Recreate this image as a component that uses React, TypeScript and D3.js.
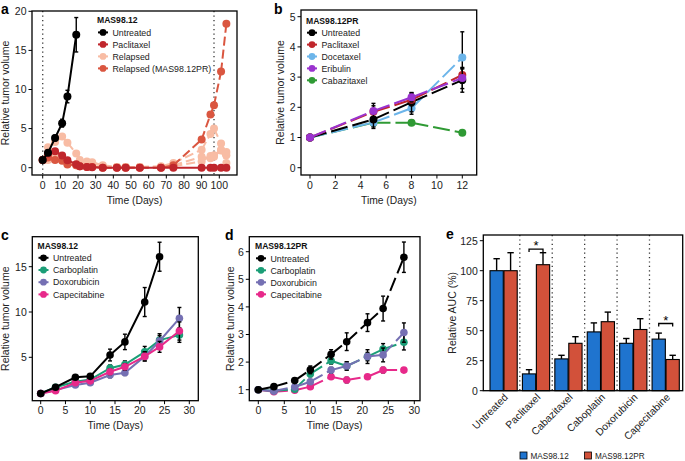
import React from 'react';
import * as d3 from 'd3';

const FONT = "'Liberation Sans', Arial, Helvetica, sans-serif";

// ---------- Panel a data ----------
const aDays = [0, 3, 7, 11, 14, 19, 21, 25, 28, 34, 42, 47, 55, 67, 74, 90, 95, 97, 101, 104];
const aUntreatedDays = [0, 3, 7, 11, 14, 19];
const aUntreated = [1, 1.9, 3.8, 5.7, 9.1, 17.0];
const aUntreatedErr = [0, 0.2, 0.35, 0.5, 0.8, 2.2];
const aPaclitaxel = [1, 1.8, 2.1, 1.55, 0.95, 0.45, 0.2, 0.1, 0.05, 0, 0, 0, 0, 0, 0, 0, 0, 0, 0, 0];
const aRelapsed1 = [1, 2.6, 3.3, 4.0, 3.2, 1.8, 1.0, 0.8, 0.7, 0.3, 0.1, 0.1, 0.1, 0.1, 0.2, 0.8, 1.5, 1.6, 2.3, 2.0];
const aRelapsed2 = [1, 1.0, 1.5, 1.2, 0.8, 0.4, 0.3, 0.6, 0.6, 0.2, 0.1, 0.1, 0.1, 0.2, 0.6, 2.3, 4.3, 5.0, 3.1, 1.6];
const aRelapsed3 = [1, 1.7, 1.2, 1.0, 0.5, 0.3, 0.2, 0.2, 0.2, 0.1, 0.1, 0.1, 0.1, 0.1, 0.3, 1.4, 1.2, 1.4, 2.2, 0.6];
const aRelapsedPR = [1, 1.3, 1.0, 0.9, 0.4, 0.3, 0.2, 0.1, 0.1, 0, 0, 0, 0, 0, 0.3, 3.6, 6.8, 8.0, 12.3, 18.4];
const aXTicks = [0, 10, 20, 30, 40, 50, 60, 70, 80, 90, 100];
const aYTicks = [0, 5, 10, 15, 20];
const aLegend = ['Untreated', 'Paclitaxel', 'Relapsed', 'Relapsed (MAS98.12PR)'];

// ---------- Panel b data ----------
const bDays = [0, 5, 8, 12];
const bUntreated = [1, 1.6, 2.17, 2.9];
const bUntreatedErr = [0, 0.3, 0.32, 0.4];
const bPaclitaxel = [1, 1.85, 2.25, 3.07];
const bPaclitaxelErr = [0, 0.2, 0.2, 0.2];
const bDocetaxel = [1, 1.5, 1.97, 3.65];
const bDocetaxelErr = [0, 0.15, 0.2, 0.85];
const bEribulin = [1, 1.88, 2.33, 2.97];
const bEribulinErr = [0, 0.25, 0.15, 0.35];
const bCabazitaxel = [1, 1.49, 1.49, 1.16];
const bCabazitaxelErr = [0, 0.1, 0.08, 0.05];
const bXTicks = [0, 2, 4, 6, 8, 10, 12];
const bYTicks = [0, 1, 2, 3, 4, 5];
const bLegend = ['Untreated', 'Paclitaxel', 'Docetaxel', 'Eribulin', 'Cabazitaxel'];

// ---------- Panel c data ----------
const cDays = [0, 3, 7, 10, 14, 17, 21, 24, 28];
const cUntreatedDays = [0, 3, 7, 10, 14, 17, 21, 24];
const cUntreated = [1, 1.7, 2.8, 2.9, 5.25, 6.7, 11.1, 16.1];
const cUntreatedErr = [0, 0.1, 0.15, 0.2, 0.65, 0.85, 1.6, 1.6];
const cCarboplatin = [1, 1.7, 2.3, 2.55, 3.8, 4.2, 5.6, 6.9, 7.45];
const cCarboplatinErr = [0, 0.1, 0.15, 0.2, 0.35, 0.4, 0.6, 0.7, 0.8];
const cDoxorubicin = [1, 1.4, 1.95, 2.2, 3.05, 3.3, 5.1, 6.8, 9.3];
const cDoxorubicinErr = [0, 0.1, 0.15, 0.2, 0.3, 0.3, 0.5, 0.6, 1.2];
const cCapecitabine = [1, 1.3, 2.2, 2.4, 3.4, 3.95, 5.1, 6.15, 7.9];
const cCapecitabineErr = [0, 0.1, 0.15, 0.2, 0.3, 0.35, 0.5, 0.6, 1.0];
const cXTicks = [0, 5, 10, 15, 20, 25, 30];
const cYTicks = [5, 10, 15];
const cLegend = ['Untreated', 'Carboplatin', 'Doxorubicin', 'Capecitabine'];

// ---------- Panel d data ----------
const dDays = [0, 3, 7, 10, 14, 17, 21, 24, 28];
const dUntreated = [1, 1.11, 1.33, 1.72, 2.28, 2.74, 3.43, 3.94, 5.8];
const dUntreatedErr = [0, 0.05, 0.08, 0.14, 0.17, 0.32, 0.32, 0.45, 0.55];
const dCarboplatin = [1, 0.96, 1.02, 1.57, 2.05, 1.86, 2.2, 2.47, 2.72];
const dCarboplatinErr = [0, 0.03, 0.05, 0.1, 0.12, 0.15, 0.15, 0.2, 0.28];
const dDoxorubicin = [1, 0.95, 1.1, 1.29, 1.71, 1.86, 2.2, 2.26, 3.07];
const dDoxorubicinErr = [0, 0.03, 0.05, 0.08, 0.1, 0.15, 0.25, 0.25, 0.35];
const dCapecitabine = [1, 0.93, 0.98, 1.11, 1.47, 1.35, 1.47, 1.71, 1.71];
const dCapecitabineErr = [0, 0.03, 0.04, 0.06, 0.08, 0.1, 0.06, 0.1, 0.08];
const dXTicks = [0, 5, 10, 15, 20, 25, 30];
const dYTicks = [1, 2, 3, 4, 5, 6];

// ---------- Panel e data ----------
const eCategories = ['Untreated', 'Paclitaxel', 'Cabazitaxel', 'Caboplatin', 'Doxorubicin', 'Capecitabine'];
const eGroups = ['MAS98.12', 'MAS98.12PR'];
const eMAS9812 = [100, 14, 26.5, 49, 39.5, 43];
const eMAS9812Err = [10, 3.5, 3, 7.5, 4, 5];
const eMAS9812PR = [100, 105, 39.5, 57.5, 51, 26];
const eMAS9812PRErr = [15, 10, 5.5, 8, 9, 3.5];
const eYTicks = [0, 25, 50, 75, 100, 125];
const eSignificant = ['Paclitaxel', 'Capecitabine'];
const eSigLevel = [118, 56];

// ---------- colors ----------
const C_BLACK = '#000000';
const C_PAC = '#c0262c';
const C_REL = '#f8bca4';
const C_RELPR = '#da5640';
const C_DOC = '#6cb5ea';
const C_ERI = '#9a33cf';
const C_CAB = '#2f9a34';
const C_CARBO = '#1b9e77';
const C_DOXO = '#7570b3';
const C_CAPE = '#e7298a';
const C_BLUE = '#1f74cf';
const C_RED = '#d2513a';

type Scale = (v: number) => number;
type Box = { l: number; t: number; r: number; b: number };

function Trace(props: {
  xs: number[]; ys: number[]; err?: number[]; color: string; dash?: string;
  r: number; x: Scale; y: Scale; lw?: number;
}) {
  const { xs, ys, err, color, dash, r, x, y } = props;
  const lw = props.lw ?? 2;
  const pts: [number, number][] = xs.map((d, i) => [x(d), y(ys[i])]);
  const lines = dash
    ? pts.slice(1).map((p, i) => (
        <line key={i} x1={pts[i][0]} y1={pts[i][1]} x2={p[0]} y2={p[1]}
          stroke={color} strokeWidth={lw} strokeDasharray={dash} />
      ))
    : <path d={d3.line()(pts) || ''} fill="none" stroke={color} strokeWidth={lw} />;
  return (
    <g>
      {lines}
      {err && xs.map((d, i) => err[i] > 0 ? (
        <g key={'e' + i} stroke="#000" strokeWidth={1.4}>
          <line x1={x(d)} x2={x(d)} y1={y(ys[i] - err[i])} y2={y(ys[i] + err[i])} />
          <line x1={x(d) - 2} x2={x(d) + 2} y1={y(ys[i] - err[i])} y2={y(ys[i] - err[i])} />
          <line x1={x(d) - 2} x2={x(d) + 2} y1={y(ys[i] + err[i])} y2={y(ys[i] + err[i])} />
        </g>
      ) : null)}
      {pts.map((p, i) => <circle key={'p' + i} cx={p[0]} cy={p[1]} r={r} fill={color} />)}
    </g>
  );
}

function Frame(props: {
  box: Box; x: Scale; y: Scale; xTicks: number[]; yTicks: number[];
  yTitleX: number; children?: React.ReactNode;
}) {
  const { box, x, y, xTicks, yTicks, yTitleX } = props;
  const midY = (box.t + box.b) / 2;
  const midX = (box.l + box.r) / 2;
  return (
    <g fontFamily={FONT}>
      {props.children}
      <rect x={box.l} y={box.t} width={box.r - box.l} height={box.b - box.t}
        fill="none" stroke="#000" strokeWidth={1.3} />
      {xTicks.map((t) => (
        <g key={'x' + t}>
          <line x1={x(t)} x2={x(t)} y1={box.b} y2={box.b + 3.5} stroke="#000" strokeWidth={1} />
          <text x={x(t)} y={box.b + 13.5} fontSize={10.5} textAnchor="middle" fill="#222">{t}</text>
        </g>
      ))}
      {yTicks.map((t) => (
        <g key={'y' + t}>
          <line x1={box.l} x2={box.l - 3.5} y1={y(t)} y2={y(t)} stroke="#000" strokeWidth={1} />
          <text x={box.l - 5.5} y={y(t) + 3.8} fontSize={10.5} textAnchor="end" fill="#222">{t}</text>
        </g>
      ))}
      <text x={midX} y={box.b + 28.5} fontSize={10.3} textAnchor="middle" fill="#222">Time (Days)</text>
      <text transform={`translate(${yTitleX},${midY}) rotate(-90)`} fontSize={10.5}
        textAnchor="middle" fill="#222">Relative tumor volume</text>
    </g>
  );
}

function Legend(props: { x: number; y: number; title: string; names: string[]; colors: string[]; step: number }) {
  const { x, y, title, names, colors, step } = props;
  return (
    <g fontFamily={FONT}>
      <text x={x - 6} y={y - step + 3} fontSize={8.6} fontWeight="bold" fill="#111">{title}</text>
      {names.map((n, i) => (
        <g key={n}>
          <line x1={x - 5} x2={x + 5} y1={y + i * step} y2={y + i * step} stroke={colors[i]} strokeWidth={2} />
          <circle cx={x} cy={y + i * step} r={3.4} fill={colors[i]} />
          <text x={x + 9.5} y={y + i * step + 3.2} fontSize={8.8} fill="#222">{n}</text>
        </g>
      ))}
    </g>
  );
}

function PanelA() {
  const box = { l: 32, t: 11, r: 237, b: 175 };
  const x = d3.scaleLinear().domain([0, 100]).range([42.7, 219.3]);
  const y = d3.scaleLinear().domain([0, 20]).range([167.7, 11.3]);
  return (
    <Frame box={box} x={x} y={y} xTicks={aXTicks} yTicks={aYTicks} yTitleX={9}>
      {[0, 97].map((d) => (
        <line key={d} x1={x(d)} x2={x(d)} y1={box.t} y2={box.b} stroke="#444" strokeWidth={1.4} strokeDasharray="1.3,3.2" />
      ))}
      <Trace xs={aDays} ys={aRelapsed3} color={C_REL} dash="9,4" r={4} x={x} y={y} />
      <Trace xs={aDays} ys={aRelapsed2} color={C_REL} dash="9,4" r={4} x={x} y={y} />
      <Trace xs={aDays} ys={aRelapsed1} color={C_REL} dash="9,4" r={4} x={x} y={y} />
      <Trace xs={aDays} ys={aRelapsedPR} color={C_RELPR} dash="9,4" r={4} x={x} y={y} />
      <Trace xs={aDays} ys={aPaclitaxel} color={C_PAC} r={4} x={x} y={y} />
      <Trace xs={aUntreatedDays} ys={aUntreated} err={aUntreatedErr} color={C_BLACK} r={4} x={x} y={y} />
      <Legend x={103} y={32.4} step={12} title="MAS98.12" names={aLegend} colors={[C_BLACK, C_PAC, C_REL, C_RELPR]} />
    </Frame>
  );
}

function PanelB() {
  const box = { l: 301, t: 10, r: 476.7, b: 175 };
  const x = d3.scaleLinear().domain([0, 12]).range([310, 462.3]);
  const y = d3.scaleLinear().domain([0, 5]).range([167.7, 16.7]);
  const dash = '17,5';
  return (
    <Frame box={box} x={x} y={y} xTicks={bXTicks} yTicks={bYTicks} yTitleX={283.5}>
      <Trace xs={bDays} ys={bCabazitaxel} err={bCabazitaxelErr} color={C_CAB} dash={dash} r={4} x={x} y={y} />
      <Trace xs={bDays} ys={bDocetaxel} err={bDocetaxelErr} color={C_DOC} dash={dash} r={4} x={x} y={y} />
      <Trace xs={bDays} ys={bUntreated} err={bUntreatedErr} color={C_BLACK} dash={dash} r={4} x={x} y={y} />
      <Trace xs={bDays} ys={bPaclitaxel} err={bPaclitaxelErr} color={C_PAC} dash={dash} r={4} x={x} y={y} />
      <Trace xs={bDays} ys={bEribulin} err={bEribulinErr} color={C_ERI} dash={dash} r={4} x={x} y={y} />
      <Legend x={312} y={32.7} step={11.9} title="MAS98.12PR" names={bLegend} colors={[C_BLACK, C_PAC, C_DOC, C_ERI, C_CAB]} />
    </Frame>
  );
}

function PanelC() {
  const box = { l: 32.3, t: 236.7, r: 198.3, b: 400.7 };
  const x = d3.scaleLinear().domain([0, 30]).range([40.7, 189.3]);
  const y = d3.scaleLinear().domain([0, 15]).range([402.6, 266.7]);
  return (
    <Frame box={box} x={x} y={y} xTicks={cXTicks} yTicks={cYTicks} yTitleX={9}>
      <Trace xs={cDays} ys={cCarboplatin} err={cCarboplatinErr} color={C_CARBO} r={3.8} x={x} y={y} />
      <Trace xs={cDays} ys={cDoxorubicin} err={cDoxorubicinErr} color={C_DOXO} r={3.8} x={x} y={y} />
      <Trace xs={cDays} ys={cCapecitabine} err={cCapecitabineErr} color={C_CAPE} r={3.8} x={x} y={y} />
      <Trace xs={cUntreatedDays} ys={cUntreated} err={cUntreatedErr} color={C_BLACK} r={3.8} x={x} y={y} />
      <Legend x={43.5} y={257.8} step={12.2} title="MAS98.12" names={cLegend} colors={[C_BLACK, C_CARBO, C_DOXO, C_CAPE]} />
    </Frame>
  );
}

function PanelD() {
  const box = { l: 249.3, t: 236.7, r: 420, b: 400.7 };
  const x = d3.scaleLinear().domain([0, 30]).range([258.3, 414.3]);
  const y = d3.scaleLinear().domain([1, 6]).range([389.7, 251.7]);
  const dash = '14,5';
  return (
    <Frame box={box} x={x} y={y} xTicks={dXTicks} yTicks={dYTicks} yTitleX={233.5}>
      <Trace xs={dDays} ys={dCapecitabine} err={dCapecitabineErr} color={C_CAPE} dash={dash} r={3.8} x={x} y={y} />
      <Trace xs={dDays} ys={dCarboplatin} err={dCarboplatinErr} color={C_CARBO} dash={dash} r={3.8} x={x} y={y} />
      <Trace xs={dDays} ys={dDoxorubicin} err={dDoxorubicinErr} color={C_DOXO} dash={dash} r={3.8} x={x} y={y} />
      <Trace xs={dDays} ys={dUntreated} err={dUntreatedErr} color={C_BLACK} dash={dash} r={3.8} x={x} y={y} />
      <Legend x={261} y={258.3} step={12} title="MAS98.12PR" names={cLegend} colors={[C_BLACK, C_CARBO, C_DOXO, C_CAPE]} />
    </Frame>
  );
}

function PanelE() {
  const box = { l: 483.3, t: 235, r: 682.7, b: 390.7 };
  const x = d3.scaleBand<string>().domain(eCategories).range([487.4, 681.9]);
  const inner = d3.scaleBand<string>().domain(eGroups).range([2.6, x.bandwidth() - 2.6]).paddingInner(0.05);
  const y = d3.scaleLinear().domain([0, 125]).range([390.7, 240.7]);
  const values = [eMAS9812, eMAS9812PR];
  const errs = [eMAS9812Err, eMAS9812PRErr];
  const colors = [C_BLUE, C_RED];
  return (
    <g fontFamily={FONT}>
      {eCategories.slice(1).map((c) => (
        <line key={c} x1={x(c)!} x2={x(c)!} y1={box.t} y2={box.b} stroke="#333" strokeWidth={1.3} strokeDasharray="1.2,3.2" />
      ))}
      {eCategories.map((c, i) => (
        <g key={c}>
          {eGroups.map((g, k) => {
            const bx = x(c)! + inner(g)!;
            const bw = inner.bandwidth();
            const v = values[k][i];
            const e = errs[k][i];
            const cx = bx + bw / 2;
            return (
              <g key={g}>
                <g stroke="#000" strokeWidth={1.4}>
                  <line x1={cx} x2={cx} y1={y(v)} y2={y(v + e)} />
                  <line x1={cx - 3.2} x2={cx + 3.2} y1={y(v + e)} y2={y(v + e)} />
                </g>
                <rect x={bx} y={y(v)} width={bw} height={y(0) - y(v)} fill={colors[k]} stroke="#000" strokeWidth={1.1} />
              </g>
            );
          })}
        </g>
      ))}
      {eSignificant.map((c, i) => {
        const x1 = x(c)! + inner(eGroups[0])! + inner.bandwidth() / 2;
        const x2 = x(c)! + inner(eGroups[1])! + inner.bandwidth() / 2;
        const yy = y(eSigLevel[i]);
        return (
          <g key={c}>
            <path d={`M${x1},${yy + 3}V${yy}H${x2}V${yy + 3}`} fill="none" stroke="#000" strokeWidth={1.3} />
            <text x={(x1 + x2) / 2} y={yy + 1} fontSize={13} textAnchor="middle" fill="#000">*</text>
          </g>
        );
      })}
      <rect x={box.l} y={box.t} width={box.r - box.l} height={box.b - box.t} fill="none" stroke="#000" strokeWidth={1.3} />
      {eYTicks.map((t) => (
        <g key={t}>
          <line x1={box.l} x2={box.l - 3.5} y1={y(t)} y2={y(t)} stroke="#000" strokeWidth={1} />
          <text x={box.l - 5.5} y={y(t) + 3.8} fontSize={10.5} textAnchor="end" fill="#222">{t}</text>
        </g>
      ))}
      <text transform={`translate(${455.5},${(box.t + box.b) / 2}) rotate(-90)`} fontSize={10.5}
        textAnchor="middle" fill="#222">Relative AUC (%)</text>
      {eCategories.map((c) => (
        <text key={c} transform={`translate(${x(c)! + x.bandwidth() / 2 + 5},${398}) rotate(-45)`}
          fontSize={10.3} textAnchor="end" fill="#222">{c}</text>
      ))}
      {eGroups.map((g, k) => (
        <g key={g}>
          <rect x={520 + k * 64.5} y={452} width={7} height={7} fill={colors[k]} stroke="#000" strokeWidth={0.8} />
          <text x={530.5 + k * 64.5} y={458.8} fontSize={8.2} fill="#222">{g}</text>
        </g>
      ))}
    </g>
  );
}

export default function App() {
  return (
    <svg width={685} height={461} style={{ position: 'absolute', left: 0, top: 0, background: '#fff' }}>
      <rect width={685} height={461} fill="#fff" />
      <PanelA />
      <PanelB />
      <PanelC />
      <PanelD />
      <PanelE />
      <g fontFamily={FONT} fontWeight="bold" fontSize={14} fill="#000">
        <text x={1} y={13.5}>a</text>
        <text x={274} y={13.5}>b</text>
        <text x={1} y={240}>c</text>
        <text x={225} y={240}>d</text>
        <text x={446} y={239}>e</text>
      </g>
    </svg>
  );
}
